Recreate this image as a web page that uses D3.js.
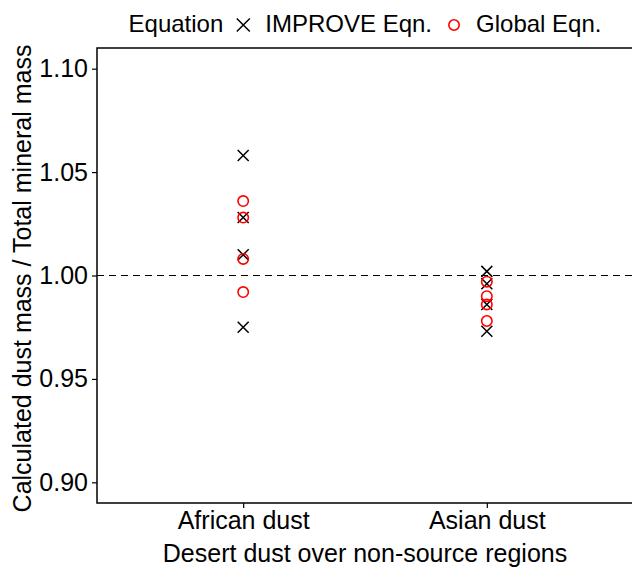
<!DOCTYPE html>
<html>
<head>
<meta charset="utf-8">
<script src="https://cdn.jsdelivr.net/npm/d3@7"></script>
<style>
  html, body { margin: 0; padding: 0; background: #fff; overflow: hidden; }
  svg { display: block; }
  text { font-family: "Liberation Sans", Arial, sans-serif; }
</style>
</head>
<body>
<svg id="chart" width="632" height="571"></svg>
<script>
// Dust regions on the x axis
const categories = ["African dust", "Asian dust"];

// Ratio of calculated dust mass to total mineral mass, per equation
const improveAfrican = [1.058, 1.028, 1.010, 0.975];
const improveAsian   = [1.002, 0.996, 0.986, 0.973];
const globalAfrican  = [1.036, 1.028, 1.008, 0.992];
const globalAsian    = [0.997, 0.990, 0.986, 0.978];

const yTicks = [0.90, 0.95, 1.00, 1.05, 1.10];

const svg = d3.select("#chart");
const FONT = "'Liberation Sans', Arial, sans-serif";
const margin = { left: 97, top: 48, bottom: 68 };
const W = 632, H = 571;
const panelRight = 633;
const panelBottom = H - margin.bottom;

// Discrete x positions with 0.6-unit padding on either side
const x = d3.scaleLinear().domain([0.4, 2.6]).range([margin.left, panelRight]);
const y = d3.scaleLinear().domain([0.89, 1.11]).range([panelBottom, margin.top]);

const xPos = c => x(categories.indexOf(c) + 1);

// Reference line at ratio 1
svg.append("line")
  .attr("x1", margin.left).attr("x2", panelRight)
  .attr("y1", y(1)).attr("y2", y(1))
  .attr("stroke", "#000").attr("stroke-width", 1.2)
  .attr("stroke-dasharray", "7,5");

// Panel frame: top, left and bottom edges (the right edge falls off the page)
svg.append("path")
  .attr("d", `M${W},${margin.top}H${margin.left}V${panelBottom}H${W}`)
  .attr("fill", "none").attr("stroke", "#000").attr("stroke-width", 1.5);

// Y axis
const yAxis = d3.axisLeft(y).tickValues(yTicks).tickFormat(d3.format(".2f")).tickSize(5).tickPadding(4);
const gy = svg.append("g").attr("transform", `translate(${margin.left},0)`).call(yAxis);
gy.select(".domain").remove();
gy.selectAll(".tick line").attr("stroke", "#000").attr("stroke-width", 1.2);
gy.selectAll(".tick text").attr("font-size", 25).attr("fill", "#000").style("font-family", FONT);

// X axis
const xAxis = d3.axisBottom(x).tickValues([1, 2]).tickFormat(d => categories[d - 1]).tickSize(5).tickPadding(3);
const gx = svg.append("g").attr("transform", `translate(0,${panelBottom})`).call(xAxis);
gx.select(".domain").remove();
gx.selectAll(".tick line").attr("stroke", "#000").attr("stroke-width", 1.2);
gx.selectAll(".tick text").attr("font-size", 25).attr("fill", "#000").style("font-family", FONT);

// Axis titles
svg.append("text")
  .attr("x", (margin.left + panelRight) / 2).attr("y", 562)
  .attr("text-anchor", "middle").attr("font-size", 25).attr("fill", "#000")
  .text("Desert dust over non-source regions");

svg.append("text")
  .attr("transform", `translate(31,${(margin.top + panelBottom) / 2 + 3}) rotate(-90)`)
  .attr("text-anchor", "middle").attr("font-size", 25).attr("fill", "#000")
  .text("Calculated dust mass / Total mineral mass");

// Marks
const crossPoints = [
  ...improveAfrican.map(v => ({ c: categories[0], v })),
  ...improveAsian.map(v => ({ c: categories[1], v }))
];
const circlePoints = [
  ...globalAfrican.map(v => ({ c: categories[0], v })),
  ...globalAsian.map(v => ({ c: categories[1], v }))
];

const cross = s => `M${-s},${-s}L${s},${s}M${-s},${s}L${s},${-s}`;

svg.append("g").selectAll("path").data(crossPoints).join("path")
  .attr("transform", d => `translate(${xPos(d.c)},${y(d.v)})`)
  .attr("d", cross(5.5))
  .attr("stroke", "#000").attr("stroke-width", 1.5).attr("fill", "none");

svg.append("g").selectAll("circle").data(circlePoints).join("circle")
  .attr("cx", d => xPos(d.c)).attr("cy", d => y(d.v)).attr("r", 5.2)
  .attr("stroke", "#ff0000").attr("stroke-width", 1.6).attr("fill", "none");

// Legend, laid out left to right and centred over the panel
const leg = svg.append("g").attr("font-size", 24).attr("fill", "#000");
const keyY = 25, baseY = 32;
let cx = 0;
const title = leg.append("text").attr("x", cx).attr("y", baseY).text("Equation");
cx += title.node().getComputedTextLength() + 20;
leg.append("path").attr("transform", `translate(${cx},${keyY})`).attr("d", cross(6.5))
  .attr("stroke", "#000").attr("stroke-width", 1.5).attr("fill", "none");
cx += 22;
const lab1 = leg.append("text").attr("x", cx).attr("y", baseY).text("IMPROVE Eqn.");
cx += lab1.node().getComputedTextLength() + 22;
leg.append("circle").attr("cx", cx).attr("cy", keyY).attr("r", 5.2)
  .attr("stroke", "#ff0000").attr("stroke-width", 1.6).attr("fill", "none");
cx += 22;
const lab2 = leg.append("text").attr("x", cx).attr("y", baseY).text("Global Eqn.");
cx += lab2.node().getComputedTextLength();
leg.attr("transform", `translate(${(margin.left + panelRight) / 2 - cx / 2},0)`);
</script>
</body>
</html>
